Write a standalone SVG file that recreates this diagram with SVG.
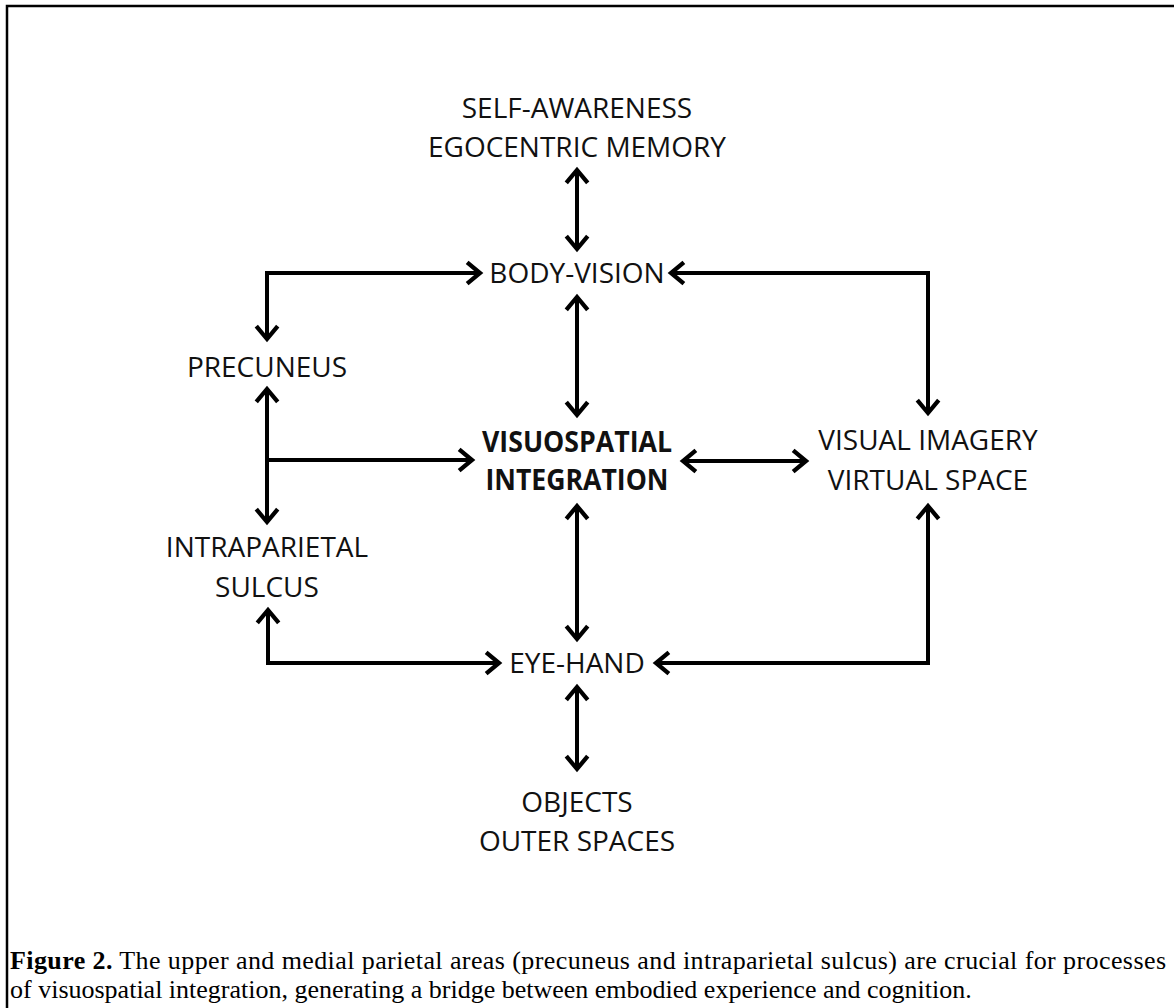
<svg xmlns="http://www.w3.org/2000/svg" width="1174" height="1008" viewBox="0 0 1174 1008">
<style>
.lbl{font-family:"Open Sans","Liberation Sans",sans-serif;font-size:28px;fill:#111;text-anchor:middle}
.bold{font-weight:bold}
.cap{font-family:"Liberation Serif","Times New Roman",serif;font-size:26px;fill:#000}
.conn path{fill:none;stroke:#000;stroke-width:4;stroke-linejoin:miter}
</style>
<defs>
<marker id="ah" markerUnits="userSpaceOnUse" markerWidth="30" markerHeight="30" viewBox="-16 -14 20 28" refX="0" refY="0" orient="auto-start-reverse">
<path d="M-12,-10 L0,0 L-12,10" fill="none" stroke="#000" stroke-width="4" stroke-linejoin="miter"/>
</marker>
</defs>
<rect width="1174" height="1008" fill="#fff"/>
<rect x="7" y="6" width="1180" height="1020" fill="none" stroke="#000" stroke-width="2.5"/>
<g id="connectors" class="conn">
<path d="M577,170 V249" marker-start="url(#ah)" marker-end="url(#ah)"/>
<path d="M577,297 V415" marker-start="url(#ah)" marker-end="url(#ah)"/>
<path d="M577,506 V639" marker-start="url(#ah)" marker-end="url(#ah)"/>
<path d="M577,687 V769" marker-start="url(#ah)" marker-end="url(#ah)"/>
<path d="M480,273 H267 V339" marker-start="url(#ah)" marker-end="url(#ah)"/>
<path d="M267,389 V522" marker-start="url(#ah)" marker-end="url(#ah)"/>
<path d="M267,460 H472" marker-end="url(#ah)"/>
<path d="M268,610 V663 H499" marker-start="url(#ah)" marker-end="url(#ah)"/>
<path d="M671,273 H928 V413" marker-start="url(#ah)" marker-end="url(#ah)"/>
<path d="M683,461 H806" marker-start="url(#ah)" marker-end="url(#ah)"/>
<path d="M928,506 V663 H656" marker-start="url(#ah)" marker-end="url(#ah)"/>
</g>
<g id="self-awareness"><text class="lbl" x="577" y="118">SELF-AWARENESS</text><text class="lbl" x="577" y="157">EGOCENTRIC MEMORY</text></g>
<g id="body-vision"><text class="lbl" x="577" y="283">BODY-VISION</text></g>
<g id="precuneus"><text class="lbl" x="267" y="377">PRECUNEUS</text></g>
<g id="visuospatial"><text class="lbl bold" x="577" y="452" textLength="190" lengthAdjust="spacingAndGlyphs">VISUOSPATIAL</text><text class="lbl bold" x="577" y="490" textLength="183" lengthAdjust="spacingAndGlyphs">INTEGRATION</text></g>
<g id="visual-imagery"><text class="lbl" x="928" y="450">VISUAL IMAGERY</text><text class="lbl" x="928" y="490">VIRTUAL SPACE</text></g>
<g id="intraparietal"><text class="lbl" x="267" y="557">INTRAPARIETAL</text><text class="lbl" x="267" y="597">SULCUS</text></g>
<g id="eye-hand"><text class="lbl" x="577" y="673">EYE-HAND</text></g>
<g id="objects"><text class="lbl" x="577" y="812">OBJECTS</text><text class="lbl" x="577" y="851">OUTER SPACES</text></g>
<g id="caption">
<text class="cap" x="10" y="969" textLength="1156" lengthAdjust="spacing"><tspan font-weight="bold">Figure 2.</tspan> The upper and medial parietal areas (precuneus and intraparietal sulcus) are crucial for processes</text>
<text class="cap" x="10" y="998">of visuospatial integration, generating a bridge between embodied experience and cognition.</text>
</g>
</svg>
